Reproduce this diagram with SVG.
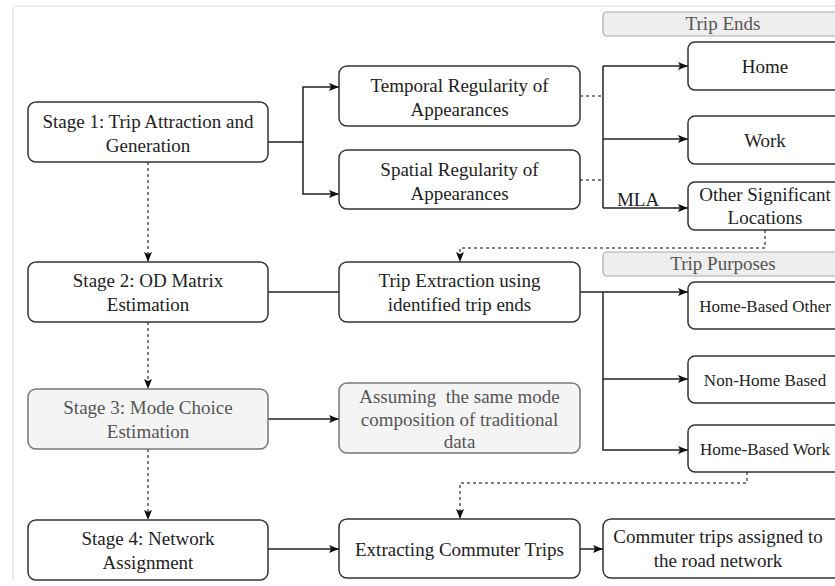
<svg xmlns="http://www.w3.org/2000/svg" width="835" height="586" viewBox="0 0 835 586">
<style>
.box{fill:#fff;stroke:#333;stroke-width:1.5}
.gbox{fill:#f4f4f4;stroke:#777;stroke-width:1.5}
.hdr{fill:#eeeeee;stroke:#aaa;stroke-width:1.2}
.t{font-family:'Liberation Serif','Tinos','DejaVu Serif','Noto Serif',serif;font-size:19px;fill:#222;text-anchor:middle}
.ts{font-family:'Liberation Serif','Tinos','DejaVu Serif','Noto Serif',serif;font-size:17px;fill:#222;text-anchor:middle}
.tg{fill:#555}
.ln{fill:none;stroke:#222;stroke-width:1.5}
.dash{fill:none;stroke:#555;stroke-width:1.5;stroke-dasharray:3 3}
.frame{fill:none;stroke:#e6e6e6;stroke-width:1.5}
</style>
<defs>
<marker id="ah" markerUnits="userSpaceOnUse" markerWidth="10" markerHeight="10" refX="10" refY="5" orient="auto">
<path d="M0,1 L10,5 L0,9 L2,5 Z" fill="#111"/>
</marker>
</defs>
<rect width="835" height="586" fill="#fff"/>
<path class="frame" d="M15,6 H835 M13,6 V580"/>

<g id="connectors">
<path class="ln" d="M268,142 H303 V87 H339" marker-end="url(#ah)"/>
<path class="ln" d="M303,142 V194 H339" marker-end="url(#ah)"/>
<path class="dash" d="M580,96 H603"/>
<path class="dash" d="M580,180 H603"/>
<path class="ln" d="M603,66 V208"/>
<path class="ln" d="M603,66 H688" marker-end="url(#ah)"/>
<path class="ln" d="M603,139 H688" marker-end="url(#ah)"/>
<path class="ln" d="M603,208 H688" marker-end="url(#ah)"/>
<path class="dash" d="M765,230 V248 H460 V262" marker-end="url(#ah)"/>
<path class="dash" d="M148,162 V262" marker-end="url(#ah)"/>
<path class="ln" d="M268,292 H339"/>
<path class="ln" d="M580,292 H688" marker-end="url(#ah)"/>
<path class="ln" d="M603,292 V450 H688" marker-end="url(#ah)"/>
<path class="ln" d="M603,379 H688" marker-end="url(#ah)"/>
<path class="dash" d="M148,322 V389" marker-end="url(#ah)"/>
<path class="ln" d="M268,419 H339" marker-end="url(#ah)"/>
<path class="dash" d="M148,449 V520" marker-end="url(#ah)"/>
<path class="ln" d="M268,549 H339" marker-end="url(#ah)"/>
<path class="ln" d="M580,549 H603" marker-end="url(#ah)"/>
<path class="dash" d="M747,472 V483 H460 V519" marker-end="url(#ah)"/>
<text class="t" x="638" y="206">MLA</text>
</g>

<g id="stage1">
<rect class="box" x="28" y="102" width="240" height="60" rx="8"/>
<text class="t" x="148" y="128">Stage 1: Trip Attraction and</text>
<text class="t" x="148" y="152">Generation</text>
</g>
<g id="temporal">
<rect class="box" x="339" y="66" width="241" height="60" rx="8"/>
<text class="t" x="459.5" y="92">Temporal Regularity of</text>
<text class="t" x="459.5" y="116">Appearances</text>
</g>
<g id="spatial">
<rect class="box" x="339" y="150" width="241" height="59" rx="8"/>
<text class="t" x="459.5" y="176">Spatial Regularity of</text>
<text class="t" x="459.5" y="200">Appearances</text>
</g>
<g id="trip-ends">
<rect class="hdr" x="603" y="12" width="240" height="24" rx="4"/>
<text class="t tg" x="723" y="30">Trip Ends</text>
</g>
<g id="home">
<rect class="box" x="688" y="42" width="155" height="48" rx="7"/>
<text class="t" x="765" y="73">Home</text>
</g>
<g id="work">
<rect class="box" x="688" y="116" width="155" height="48" rx="7"/>
<text class="t" x="765" y="147">Work</text>
</g>
<g id="other">
<rect class="box" x="688" y="182" width="155" height="48" rx="7"/>
<text class="t" x="765" y="201">Other Significant</text>
<text class="t" x="765" y="224">Locations</text>
</g>

<g id="stage2">
<rect class="box" x="28" y="262" width="240" height="60" rx="8"/>
<text class="t" x="148" y="287">Stage 2: OD Matrix</text>
<text class="t" x="148" y="311">Estimation</text>
</g>
<g id="trip-extraction">
<rect class="box" x="339" y="262" width="241" height="60" rx="8"/>
<text class="t" x="459.5" y="287">Trip Extraction using</text>
<text class="t" x="459.5" y="311">identified trip ends</text>
</g>
<g id="trip-purposes">
<rect class="hdr" x="603" y="252" width="240" height="24" rx="4"/>
<text class="t tg" x="723" y="270">Trip Purposes</text>
</g>
<g id="hbo">
<rect class="box" x="688" y="282" width="155" height="47" rx="7"/>
<text class="ts" x="765" y="312">Home-Based Other</text>
</g>
<g id="nhb">
<rect class="box" x="688" y="356" width="155" height="47" rx="7"/>
<text class="ts" x="765" y="386">Non-Home Based</text>
</g>
<g id="hbw">
<rect class="box" x="688" y="425" width="155" height="47" rx="7"/>
<text class="ts" x="765" y="455">Home-Based Work</text>
</g>

<g id="stage3">
<rect class="gbox" x="28" y="389" width="240" height="60" rx="8"/>
<text class="t tg" x="148" y="414">Stage 3: Mode Choice</text>
<text class="t tg" x="148" y="438">Estimation</text>
</g>
<g id="assuming">
<rect class="gbox" x="339" y="383" width="241" height="70" rx="8"/>
<text class="t tg" x="459.5" y="403" xml:space="preserve">Assuming  the same mode</text>
<text class="t tg" x="459.5" y="426">composition of traditional</text>
<text class="t tg" x="459.5" y="448">data</text>
</g>

<g id="stage4">
<rect class="box" x="28" y="520" width="240" height="60" rx="8"/>
<text class="t" x="148" y="545">Stage 4: Network</text>
<text class="t" x="148" y="569">Assignment</text>
</g>
<g id="extracting">
<rect class="box" x="339" y="519" width="241" height="59" rx="8"/>
<text class="t" x="459.5" y="556">Extracting Commuter Trips</text>
</g>
<g id="commuter">
<rect class="box" x="603" y="519" width="240" height="59" rx="8"/>
<text class="t" x="718" y="543">Commuter trips assigned to</text>
<text class="t" x="718" y="567">the road network</text>
</g>
</svg>
